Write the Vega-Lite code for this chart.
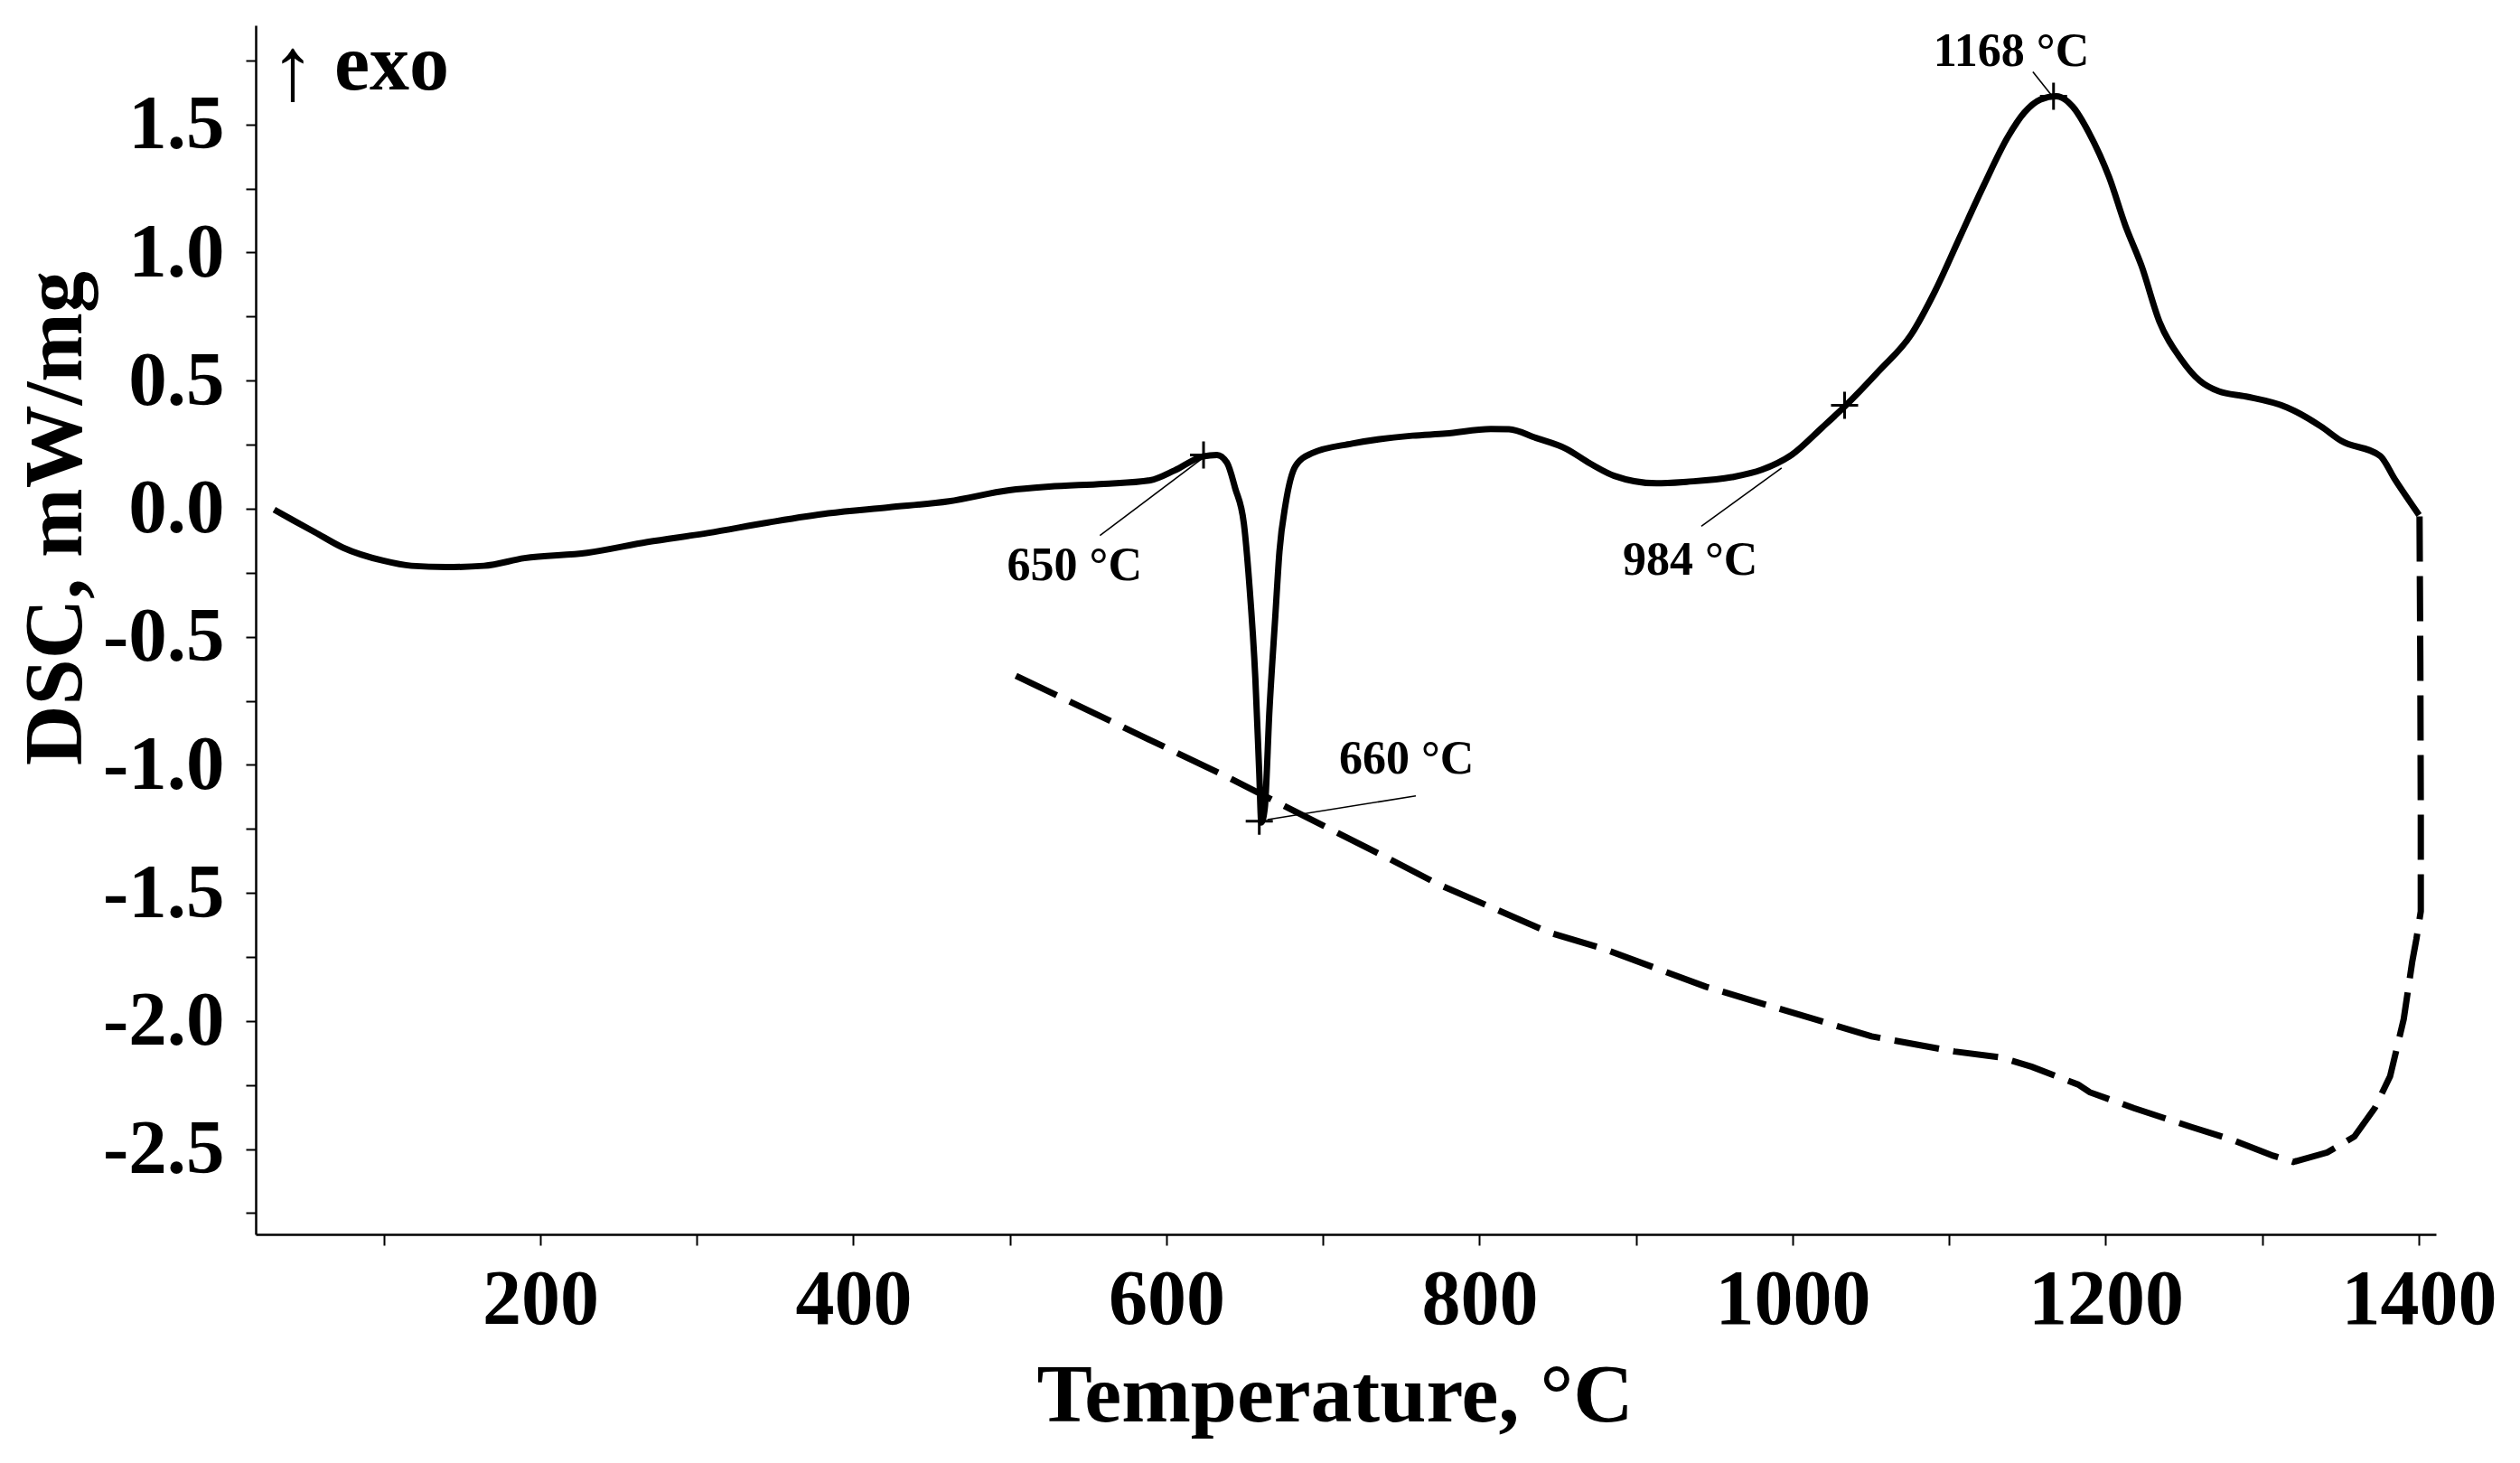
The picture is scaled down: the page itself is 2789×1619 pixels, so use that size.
{
  "$schema": "https://vega.github.io/schema/vega-lite/v6.json",
  "width": 2413,
  "height": 1338,
  "autosize": {"type": "none"},
  "padding": {"left": 283, "top": 28, "right": 93, "bottom": 253},
  "background": "white",
  "config": {
    "view": {"stroke": null},
    "axis": {
      "grid": false,
      "domainColor": "black",
      "tickColor": "black",
      "labelColor": "black",
      "titleColor": "black",
      "labelFont": "Liberation Serif",
      "titleFont": "Liberation Serif",
      "labelFontWeight": "bold",
      "titleFontWeight": "bold",
      "domainWidth": 2.5,
      "tickWidth": 2,
      "labelOverlap": false,
      "labelFlush": false,
      "labelBound": false
    }
  },
  "datasets": {
    "solid": [
      {"T": 30, "DSC": -0.004}, {"T": 42, "DSC": -0.045}, {"T": 55.8, "DSC": -0.091}, {"T": 73.9, "DSC": -0.152},
      {"T": 99.6, "DSC": -0.203}, {"T": 117.7, "DSC": -0.223}, {"T": 140, "DSC": -0.228}, {"T": 164, "DSC": -0.223},
      {"T": 189.9, "DSC": -0.193}, {"T": 230, "DSC": -0.172}, {"T": 268.5, "DSC": -0.13}, {"T": 307, "DSC": -0.095},
      {"T": 345.5, "DSC": -0.054}, {"T": 384, "DSC": -0.018}, {"T": 422.4, "DSC": 0.005}, {"T": 461, "DSC": 0.029},
      {"T": 499.5, "DSC": 0.072}, {"T": 525, "DSC": 0.086}, {"T": 560, "DSC": 0.097}, {"T": 589.7, "DSC": 0.111},
      {"T": 605.2, "DSC": 0.149}, {"T": 623.2, "DSC": 0.204}, {"T": 632.3, "DSC": 0.21}, {"T": 638.7, "DSC": 0.179},
      {"T": 643.9, "DSC": 0.08}, {"T": 649.5, "DSC": -0.06}, {"T": 652.9, "DSC": -0.291}, {"T": 656.8, "DSC": -0.663},
      {"T": 659.3, "DSC": -1.034}, {"T": 660.6, "DSC": -1.225}, {"T": 662.8, "DSC": -1.17}, {"T": 665.8, "DSC": -0.787},
      {"T": 669.6, "DSC": -0.415}, {"T": 672.2, "DSC": -0.167}, {"T": 676.1, "DSC": 0.018}, {"T": 682.5, "DSC": 0.167},
      {"T": 692.8, "DSC": 0.216}, {"T": 718.6, "DSC": 0.254}, {"T": 757.2, "DSC": 0.285}, {"T": 778.4, "DSC": 0.293},
      {"T": 807.2, "DSC": 0.311}, {"T": 818.8, "DSC": 0.31}, {"T": 836.1, "DSC": 0.276}, {"T": 855.3, "DSC": 0.234},
      {"T": 870.7, "DSC": 0.176}, {"T": 886.1, "DSC": 0.128}, {"T": 913, "DSC": 0.099}, {"T": 932.3, "DSC": 0.105},
      {"T": 961.2, "DSC": 0.123}, {"T": 980.4, "DSC": 0.152}, {"T": 999.6, "DSC": 0.211}, {"T": 1018.9, "DSC": 0.317},
      {"T": 1033.3, "DSC": 0.399}, {"T": 1055.2, "DSC": 0.538}, {"T": 1075.8, "DSC": 0.68}, {"T": 1091.3, "DSC": 0.853},
      {"T": 1106.7, "DSC": 1.058}, {"T": 1122.2, "DSC": 1.263}, {"T": 1137.6, "DSC": 1.452}, {"T": 1148, "DSC": 1.546},
      {"T": 1158.2, "DSC": 1.597}, {"T": 1168.6, "DSC": 1.61}, {"T": 1178.9, "DSC": 1.57}, {"T": 1189.3, "DSC": 1.468},
      {"T": 1202.2, "DSC": 1.294}, {"T": 1212.6, "DSC": 1.105}, {"T": 1222.9, "DSC": 0.948}, {"T": 1234.3, "DSC": 0.731},
      {"T": 1248.4, "DSC": 0.582}, {"T": 1260, "DSC": 0.5}, {"T": 1272.3, "DSC": 0.458}, {"T": 1289.6, "DSC": 0.438},
      {"T": 1315.6, "DSC": 0.396}, {"T": 1337.3, "DSC": 0.322}, {"T": 1350.4, "DSC": 0.265}, {"T": 1375.3, "DSC": 0.206},
      {"T": 1385, "DSC": 0.112}, {"T": 1400.2, "DSC": -0.025}
    ],
    "dashed": [
      {"i": 1, "T": 1400.5, "DSC": -0.03}, {"i": 2, "T": 1401, "DSC": -0.6}, {"i": 3, "T": 1401.3, "DSC": -1.2},
      {"i": 4, "T": 1401.3, "DSC": -1.572}, {"i": 5, "T": 1398.5, "DSC": -1.68}, {"i": 6, "T": 1395.8, "DSC": -1.77},
      {"i": 7, "T": 1390.4, "DSC": -1.993}, {"i": 8, "T": 1381.7, "DSC": -2.216}, {"i": 9, "T": 1371.9, "DSC": -2.34},
      {"i": 10, "T": 1358.9, "DSC": -2.451}, {"i": 11, "T": 1341.6, "DSC": -2.513}, {"i": 12, "T": 1319.9, "DSC": -2.55},
      {"i": 13, "T": 1306.9, "DSC": -2.526}, {"i": 14, "T": 1280.9, "DSC": -2.464}, {"i": 15, "T": 1254.9, "DSC": -2.414},
      {"i": 16, "T": 1218, "DSC": -2.34}, {"i": 17, "T": 1189.8, "DSC": -2.278}, {"i": 18, "T": 1182.4, "DSC": -2.248},
      {"i": 19, "T": 1153, "DSC": -2.179}, {"i": 20, "T": 1133, "DSC": -2.142}, {"i": 21, "T": 1103.5, "DSC": -2.119},
      {"i": 22, "T": 1050.5, "DSC": -2.06}, {"i": 23, "T": 1015.1, "DSC": -1.995}, {"i": 24, "T": 944.5, "DSC": -1.866},
      {"i": 25, "T": 879.6, "DSC": -1.719}, {"i": 26, "T": 844.3, "DSC": -1.654}, {"i": 27, "T": 773.6, "DSC": -1.466},
      {"i": 28, "T": 739.2, "DSC": -1.357}, {"i": 29, "T": 720.7, "DSC": -1.301}, {"i": 30, "T": 638.7, "DSC": -1.047},
      {"i": 31, "T": 503.4, "DSC": -0.651}
    ],
    "markers": [
      {"T": 623.7, "DSC": 0.21}, {"T": 659.3, "DSC": -1.22}, {"T": 1033.2, "DSC": 0.404}, {"T": 1166.7, "DSC": 1.61}
    ],
    "leaders": [
      {"T": 557.5, "DSC": -0.105, "T2": 624.6, "DSC2": 0.204},
      {"T": 759.3, "DSC": -1.121, "T2": 664.5, "DSC2": -1.214},
      {"T": 941.7, "DSC": -0.069, "T2": 993, "DSC2": 0.159},
      {"T": 1153.5, "DSC": 1.705, "T2": 1165.9, "DSC2": 1.61}
    ],
    "labels": [
      {"T": 498.2, "DSC": -0.278, "label": "650 °C"},
      {"T": 710.3, "DSC": -1.034, "label": "660 °C"},
      {"T": 891.5, "DSC": -0.257, "label": "984 °C"},
      {"T": 1089.9, "DSC": 1.727, "label": "1168 °C"}
    ],
    "arrow": [{"T": 41.9, "DSC": 1.599, "label": "↑"}],
    "exo": [{"T": 68.4, "DSC": 1.635, "label": "exo"}]
  },
  "encoding": {
    "x": {
      "field": "T", "type": "quantitative",
      "scale": {"domain": [18.2, 1411], "nice": false, "zero": false},
      "axis": {
        "title": "Temperature, °C",
        "values": [100, 200, 300, 400, 500, 600, 700, 800, 900, 1000, 1100, 1200, 1300, 1400],
        "labelExpr": "datum.value % 200 === 0 ? format(datum.value, 'd') : ''",
        "tickSize": 12,
        "labelPadding": 18,
        "labelFontSize": 86,
        "titleFontSize": 92,
        "titleBaseline": "alphabetic",
        "titleY": 206,
        "titleX": 1194
      }
    },
    "y": {
      "field": "DSC", "type": "quantitative",
      "scale": {"domain": [-2.833, 1.887], "nice": false, "zero": false},
      "axis": {
        "title": "DSC, mW/mg",
        "values": [-2.75, -2.5, -2.25, -2, -1.75, -1.5, -1.25, -1, -0.75, -0.5, -0.25, 0, 0.25, 0.5, 0.75, 1, 1.25, 1.5, 1.75],
        "labelExpr": "abs(datum.value*2 - round(datum.value*2)) < 0.001 ? replace(format(datum.value, '.1f'), '−', '-') : ''",
        "tickSize": 11,
        "labelPadding": 24,
        "labelFontSize": 85,
        "titleFontSize": 92,
        "titleBaseline": "alphabetic",
        "titleAngle": 270,
        "titleX": -194,
        "titleY": 545
      }
    }
  },
  "layer": [
    {
      "data": {"name": "solid"},
      "mark": {"type": "line", "color": "black", "strokeWidth": 7, "interpolate": "monotone"}
    },
    {
      "data": {"name": "dashed"},
      "mark": {"type": "line", "color": "black", "strokeWidth": 7, "strokeDash": [50, 16]},
      "encoding": {
        "order": {"field": "i", "type": "quantitative"}
      }
    },
    {
      "data": {"name": "leaders"},
      "mark": {"type": "rule", "color": "black", "strokeWidth": 1.6},
      "encoding": {
        "x2": {"field": "T2"},
        "y2": {"field": "DSC2"}
      }
    },
    {
      "data": {"name": "markers"},
      "mark": {"type": "point", "shape": "M-1,0H1M0,-1V1", "size": 900, "filled": false, "stroke": "black", "strokeWidth": 3, "opacity": 1}
    },
    {
      "data": {"name": "labels"},
      "mark": {"type": "text", "font": "Liberation Serif", "fontWeight": "bold", "fontSize": 52, "align": "left", "baseline": "alphabetic", "color": "black"},
      "encoding": {"text": {"field": "label"}}
    },
    {
      "data": {"name": "arrow"},
      "mark": {"type": "text", "font": "Liberation Serif", "fontSize": 100, "align": "center", "baseline": "alphabetic", "color": "black"},
      "encoding": {"text": {"field": "label"}}
    },
    {
      "data": {"name": "exo"},
      "mark": {"type": "text", "font": "Liberation Serif", "fontWeight": "bold", "fontSize": 88, "align": "left", "baseline": "alphabetic", "color": "black"},
      "encoding": {"text": {"field": "label"}}
    }
  ]
}
